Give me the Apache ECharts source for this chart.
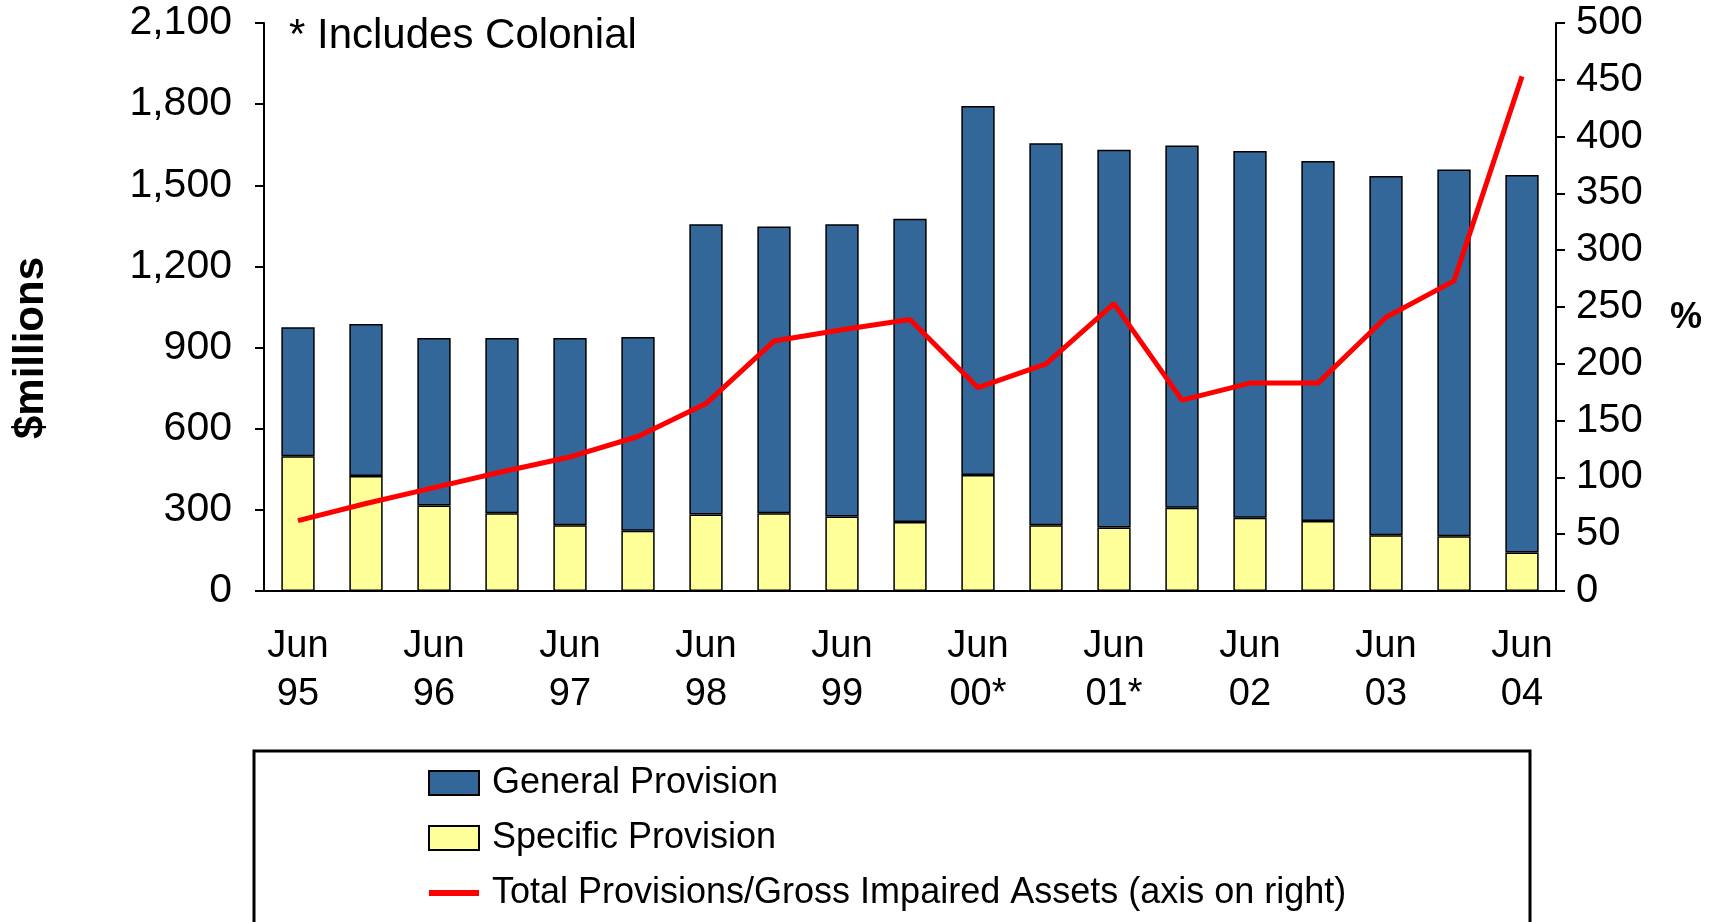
<!DOCTYPE html>
<html>
<head>
<meta charset="utf-8">
<script src="https://cdn.jsdelivr.net/npm/echarts@6/dist/echarts.min.js"></script>
<style>
  html, body { margin: 0; padding: 0; background: #fff; }
  #chart { width: 1716px; height: 922px; }
</style>
</head>
<body>
<div id="chart"></div>
<script>
// half-year periods, Jun 95 .. Jun 04
const categories = [
  'Jun\n95', 'Dec\n95', 'Jun\n96', 'Dec\n96', 'Jun\n97', 'Dec\n97', 'Jun\n98', 'Dec\n98',
  'Jun\n99', 'Dec\n99', 'Jun\n00*', 'Dec\n00*', 'Jun\n01*', 'Dec\n01', 'Jun\n02', 'Dec\n02',
  'Jun\n03', 'Dec\n03', 'Jun\n04'
];
const specificProvision = [498, 425, 316, 287, 243, 223, 283, 287, 275, 255, 429, 243, 235, 308, 271, 259, 206, 202, 142];
const generalProvision = [477, 562, 619, 648, 692, 716, 1073, 1061, 1081, 1121, 1364, 1412, 1396, 1339, 1356, 1331, 1328, 1356, 1396];
const coverageRatio = [62, 77, 91, 105, 118, 136, 165, 220, 230, 239, 179, 200, 253, 168, 183, 183, 241, 273, 453];

const FONT = 'Liberation Sans, Arial, sans-serif';
const LINE_NAME = 'Total Provisions/Gross Impaired Assets (axis on right)';
const chart = echarts.init(document.getElementById('chart'));

chart.setOption({
  animation: false,
  textStyle: { fontFamily: FONT, color: '#000' },
  title: {
    text: '* Includes Colonial',
    left: 284,
    top: 10,
    textStyle: { fontFamily: FONT, fontSize: 42, fontWeight: 'normal', color: '#000' }
  },
  grid: { left: 264, right: 160, top: 23, bottom: 331 },
  legend: {
    orient: 'vertical',
    left: 428,
    top: 763,
    padding: 0,
    itemWidth: 50,
    itemHeight: 24,
    itemGap: 15,
    textStyle: { fontFamily: FONT, fontSize: 36, lineHeight: 40, color: '#000', padding: [0, 0, 0, 8] },
    data: [
      { name: 'General Provision', icon: 'rect' },
      { name: 'Specific Provision', icon: 'rect' },
      { name: LINE_NAME, icon: 'path://M0,0 M0,9 L50,9 L50,15 L0,15 Z M50,24' }
    ]
  },
  graphic: [{
    type: 'rect',
    shape: { x: 254, y: 751, width: 1276, height: 220 },
    style: { fill: 'none', stroke: '#000', lineWidth: 3 },
    z: -1
  }, {
    type: 'text',
    x: 31,
    y: 348,
    rotation: Math.PI / 2,
    style: {
      text: '$millions',
      font: 'bold 42px ' + FONT,
      fill: '#000',
      align: 'center',
      verticalAlign: 'middle'
    }
  }, {
    type: 'text',
    x: 1686,
    y: 318,
    style: {
      text: '%',
      font: 'bold 36px ' + FONT,
      fill: '#000',
      align: 'center',
      verticalAlign: 'middle'
    }
  }],
  xAxis: {
    type: 'category',
    data: categories,
    axisLine: { lineStyle: { color: '#000', width: 2 } },
    axisTick: { interval: 0, length: 12, lineStyle: { color: '#000', width: 2 } },
    axisLabel: { interval: 1, fontSize: 38, lineHeight: 48, margin: 32, color: '#000' }
  },
  yAxis: [{
    type: 'value',
    min: 0,
    max: 2100,
    interval: 300,
    splitLine: { show: false },
    axisLine: { show: true, lineStyle: { color: '#000', width: 2 } },
    axisTick: { show: true, length: 9, lineStyle: { color: '#000', width: 2 } },
    axisLabel: {
      fontSize: 41,
      margin: 32,
      color: '#000',
      formatter: v => v.toLocaleString('en-US')
    }
  }, {
    type: 'value',
    min: 0,
    max: 500,
    interval: 50,
    splitLine: { show: false },
    axisLine: { show: true, lineStyle: { color: '#000', width: 2 } },
    axisTick: { show: true, length: 9, lineStyle: { color: '#000', width: 2 } },
    axisLabel: { fontSize: 40, margin: 20, color: '#000' }
  }],
  series: [{
    name: 'Specific Provision',
    type: 'bar',
    stack: 'prov',
    barWidth: '49%',
    data: specificProvision,
    itemStyle: { color: '#FFFF99', borderColor: '#000', borderWidth: 1.5 }
  }, {
    name: 'General Provision',
    type: 'bar',
    stack: 'prov',
    barWidth: '49%',
    data: generalProvision,
    itemStyle: { color: '#336699', borderColor: '#000', borderWidth: 1.5 }
  }, {
    name: LINE_NAME,
    type: 'line',
    yAxisIndex: 1,
    data: coverageRatio,
    symbol: 'none',
    itemStyle: { color: '#FF0000' },
    lineStyle: { color: '#FF0000', width: 5 }
  }]
});

window.addEventListener('resize', () => chart.resize());
</script>
</body>
</html>
